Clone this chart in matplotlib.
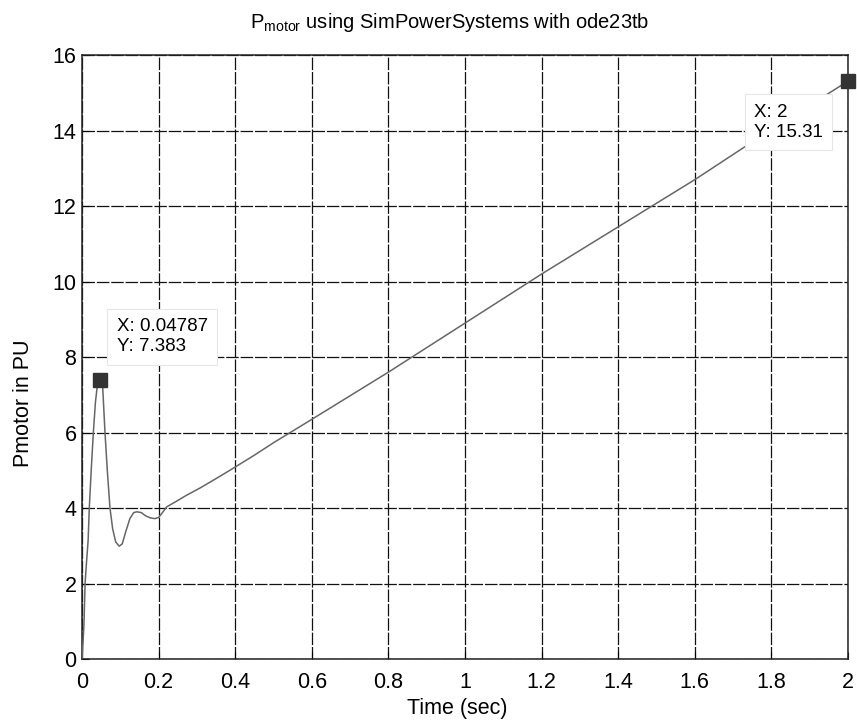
import matplotlib
matplotlib.use("Agg")
import matplotlib.pyplot as plt
import numpy as np

plt.rcParams['font.family'] = ['Liberation Sans', 'DejaVu Sans']
plt.rcParams['mathtext.fontset'] = 'custom'
plt.rcParams['mathtext.rm'] = 'Liberation Sans'
plt.rcParams['mathtext.it'] = 'Liberation Sans'

# data
t = [0, 0.002, 0.005, 0.008, 0.012, 0.016, 0.019, 0.024, 0.0296, 0.035, 0.04, 0.04787,
     0.054, 0.06, 0.066, 0.073, 0.08, 0.088, 0.097, 0.105, 0.115, 0.125, 0.135, 0.143,
     0.155, 0.165, 0.178, 0.19, 0.2, 0.21, 0.221, 0.25, 0.273, 0.308, 0.35, 0.386,
     0.45, 0.5, 0.6, 0.8, 1.0, 1.2, 1.4, 1.6, 1.75, 1.85, 2.0]
p = [0, 0.33, 0.9, 2.0, 2.6, 3.15, 4.0, 5.0, 6.0, 6.8, 7.25, 7.383,
     7.2, 6.0, 5.0, 4.0, 3.45, 3.1, 2.99, 3.05, 3.4, 3.72, 3.88, 3.9,
     3.88, 3.8, 3.74, 3.72, 3.75, 3.88, 4.03, 4.2, 4.34, 4.53, 4.78, 5.0,
     5.4, 5.73, 6.35, 7.6, 8.9, 10.2, 11.45, 12.7, 13.7, 14.35, 15.31]

tip_x = [0.04787, 2.0]
tip_y = [7.383, 15.31]
tip_labels = ["X: 0.04787\nY: 7.383", "X: 2\nY: 15.31"]

xticks = [0, 0.2, 0.4, 0.6, 0.8, 1, 1.2, 1.4, 1.6, 1.8, 2]
xticklabels = ["0", "0.2", "0.4", "0.6", "0.8", "1", "1.2", "1.4", "1.6", "1.8", "2"]
yticks = [0, 2, 4, 6, 8, 10, 12, 14, 16]

fig = plt.figure(figsize=(8.57, 7.25), dpi=100)
ax = fig.add_axes([0.0957, 0.091, 0.8938, 0.833])
ax.plot(t, p, color='#666666', lw=1.1, zorder=3)
ax.set_xlim(0, 2)
ax.set_ylim(0, 16)
ax.set_xticks(xticks)
ax.set_xticklabels(xticklabels)
ax.set_yticks(yticks)
ax.tick_params(labelsize=15.5, direction='in', length=5, width=0.8)
ax.tick_params(axis='x', pad=9)
ax.tick_params(axis='y', pad=4)
ax.grid(True, color='#111111', lw=0.9, linestyle=(0, (10, 1.5)))
for s in ax.spines.values():
    s.set_linewidth(1.1)
    s.set_color('#222222')

ax.set_xlabel("Time (sec)", fontsize=15.5)
ax.xaxis.set_label_coords(0.49, -0.064)
ax.set_ylabel("Pmotor in PU", fontsize=15.5)
ax.yaxis.set_label_coords(-0.063, 0.424)

fig.text(0.525, 0.962, r"P$_{\mathrm{motor}}$ using SimPowerSystems with ode23tb",
         fontsize=14.5, ha='center', va='baseline')

ax.plot(tip_x, tip_y, 's', color='#333333', ms=10, zorder=6, clip_on=False)
offsets = [(0.0906, 8.54), (1.755, 14.22)]
for (x0, y0), lab in zip(offsets, tip_labels):
    ax.text(x0, y0, lab, fontsize=13.5, va='center', ha='left', zorder=7, linespacing=1.25,
            bbox=dict(boxstyle='square,pad=0.5', fc='white', ec='#e6e6e6', lw=0.8))

fig.savefig("out.png", dpi=100)
